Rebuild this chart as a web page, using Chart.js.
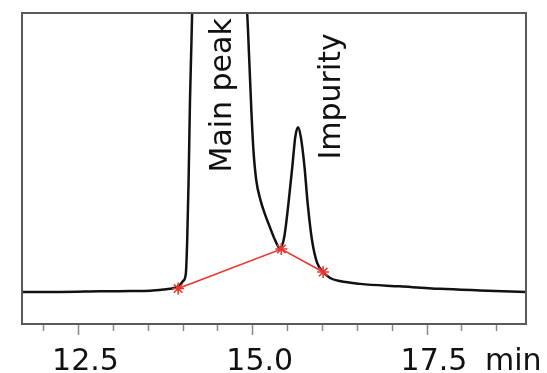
<!DOCTYPE html>
<html>
<head>
<meta charset="utf-8">
<script src="https://cdn.jsdelivr.net/npm/chart.js@4"></script>
<style>
  html, body { margin: 0; padding: 0; background: #fff; }
  #wrap { width: 547px; height: 373px; }
</style>
</head>
<body>
<div id="wrap"><canvas id="chrom" width="547" height="373"></canvas></div>
<script>
// retention time (min) and detector signal
const times = [11.69, 12.24, 12.81, 13.24, 13.53, 13.72, 13.87, 13.94, 14.00, 14.04, 14.06, 14.08, 14.10, 14.12,
  14.15, 14.45, 14.85,
  14.92, 14.95, 14.98, 15.01, 15.05, 15.11, 15.18, 15.25, 15.32, 15.39,
  15.45, 15.51, 15.57, 15.61, 15.65, 15.69, 15.74, 15.79, 15.85, 15.92, 16.01,
  16.11, 16.25, 16.54, 17.11, 17.69, 18.26, 18.92];
const signal = [10.3, 10.3, 10.5, 10.6, 10.7, 11.1, 11.6, 12.2, 13.8, 16.1, 27.0, 46.3, 72.0, 90.0,
  115, 150, 118,
  100, 84.9, 68.8, 55.9, 46.3, 39.9, 35.0, 30.9, 27.0, 24.4,
  27.7, 38.3, 51.1, 60.1, 63.3, 60.1, 51.1, 38.3, 27.0, 19.9, 16.7,
  14.8, 13.8, 12.9, 12.1, 11.3, 10.8, 10.3];

// integration baseline drop points
const baseTimes = [13.93, 15.41, 16.01];
const baseSignal = [11.4, 24.1, 16.7];

const tickLabels = [12.5, 15.0, 17.5];
const peakLabels = [
  { text: 'Main peak', t: 14.69, v: 73.5 },
  { text: 'Impurity', t: 16.25, v: 73.2 }
];

const FONT = '"DejaVu Sans", Verdana, sans-serif';

const decorations = {
  id: 'decorations',
  afterDatasetsDraw(chart) {
    const { ctx, chartArea: a, scales } = chart;
    ctx.save();
    ctx.fillStyle = '#111';
    ctx.font = '30px ' + FONT;
    ctx.textAlign = 'center';
    ctx.textBaseline = 'alphabetic';
    peakLabels.forEach(l => {
      ctx.save();
      ctx.translate(scales.x.getPixelForValue(l.t), scales.y.getPixelForValue(l.v));
      ctx.rotate(-Math.PI / 2);
      ctx.fillText(l.text, 0, 0);
      ctx.restore();
    });
    // frame
    ctx.strokeStyle = '#5a5a5a';
    ctx.lineWidth = 2;
    ctx.strokeRect(a.left, a.top, a.right - a.left, a.bottom - a.top);
    // unit after last label
    ctx.textAlign = 'left';
    ctx.fillText('min', scales.x.getPixelForValue(17.5) + 58, 370);
    ctx.restore();
  }
};

new Chart(document.getElementById('chrom'), {
  type: 'line',
  data: {
    datasets: [
      {
        data: times.map((t, i) => ({ x: t, y: signal[i] })),
        borderColor: '#111',
        borderWidth: 2.5,
        pointRadius: 0,
        cubicInterpolationMode: 'monotone',
        order: 2
      },
      {
        data: baseTimes.map((t, i) => ({ x: t, y: baseSignal[i] })),
        borderColor: '#e8362c',
        borderWidth: 1.6,
        pointStyle: 'star',
        pointRadius: 6,
        pointBorderColor: '#e8362c',
        pointBorderWidth: 1.6,
        tension: 0,
        order: 1
      }
    ]
  },
  options: {
    responsive: false,
    animation: false,
    devicePixelRatio: 1,
    layout: { padding: { left: 22, right: 21, top: 13, bottom: 0 } },
    plugins: { legend: { display: false }, tooltip: { enabled: false } },
    scales: {
      x: {
        type: 'linear',
        min: 11.69,
        max: 18.92,
        border: { display: false },
        afterFit: scale => { scale.height = 49; },
        grid: {
          drawOnChartArea: false,
          tickLength: 11,
          tickColor: '#888',
          tickWidth: 1.5,
          tickBorderDash: c => tickLabels.includes(c.tick && c.tick.value) ? [] : [7, 20]
        },
        ticks: {
          stepSize: 0.5,
          includeBounds: false,
          autoSkip: false,
          maxRotation: 0,
          labelOffset: 7,
          padding: 12,
          color: '#111',
          font: { family: FONT, size: 30, lineHeight: 1 },
          callback: v => tickLabels.includes(v) ? v.toFixed(1) : ''
        }
      },
      y: {
        display: false,
        min: 0,
        max: 100
      }
    }
  },
  plugins: [decorations]
});
</script>
</body>
</html>
